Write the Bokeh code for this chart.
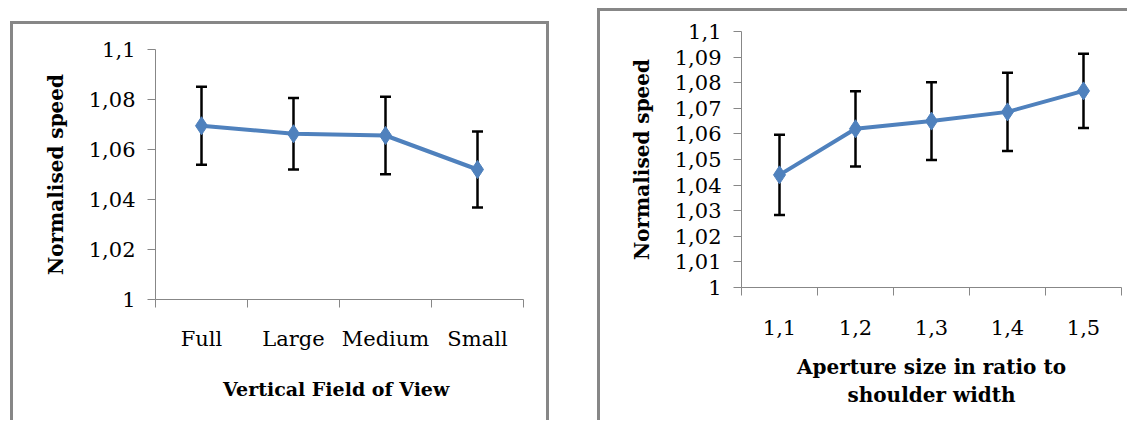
from bokeh.plotting import figure
from bokeh.layouts import row, column
from bokeh.models import ColumnDataSource, Whisker, FixedTicker, TeeHead, Range1d, Spacer
from bokeh.embed import file_html
from bokeh.resources import INLINE

# ---- data: left chart (vertical field of view) ----
fov_labels = ["Full", "Large", "Medium", "Small"]
fov_speed = [1.0695, 1.0663, 1.0656, 1.0520]
fov_err = [0.0156, 0.0143, 0.0155, 0.0152]
fov_yticks = [1.0, 1.02, 1.04, 1.06, 1.08, 1.1]
fov_ytick_labels = ["1", "1,02", "1,04", "1,06", "1,08", "1,1"]

# ---- data: right chart (aperture ratio) ----
ap_labels = ["1,1", "1,2", "1,3", "1,4", "1,5"]
ap_speed = [1.0440, 1.0620, 1.0650, 1.0686, 1.0768]
ap_err = [0.0157, 0.0147, 0.0152, 0.0153, 0.0145]
ap_yticks = [1.0, 1.01, 1.02, 1.03, 1.04, 1.05, 1.06, 1.07, 1.08, 1.09, 1.1]
ap_ytick_labels = ["1", "1,01", "1,02", "1,03", "1,04", "1,05", "1,06", "1,07", "1,08", "1,09", "1,1"]

BLUE = "#4F81BD"
GREY = "#878787"
FONT = "DejaVu Serif"


def make_panel(labels, speed, err, yticks, ylabels, xlabel, width, height, borders, shadow, ymin, ymax):
    n = len(labels)
    xs = [i + 1 for i in range(n)]
    src = ColumnDataSource(dict(
        x=xs, y=speed,
        upper=[s + e for s, e in zip(speed, err)],
        lower=[s - e for s, e in zip(speed, err)],
    ))
    p = figure(width=width, height=height, output_backend="svg", toolbar_location=None,
               x_range=Range1d(0.5, n + 0.5), y_range=Range1d(ymin, ymax))
    p.min_border_left, p.min_border_right, p.min_border_top, p.min_border_bottom = borders
    p.outline_line_color = None
    p.xgrid.visible = False
    p.ygrid.visible = False
    p.background_fill_color = None
    p.border_fill_color = None
    p.styles = {"box-shadow": shadow}

    wh = Whisker(source=src, base="x", upper="upper", lower="lower",
                 line_color="black", line_width=2.5,
                 upper_head=TeeHead(size=11, line_color="black", line_width=2.5),
                 lower_head=TeeHead(size=11, line_color="black", line_width=2.5))
    p.add_layout(wh)
    p.line("x", "y", source=src, line_color=BLUE, line_width=4)
    p.scatter("x", "y", source=src, marker="diamond", size=18, fill_color=BLUE, line_color=BLUE)

    # x axis: labels at category centres, ticks at category boundaries
    xa = p.xaxis[0]
    xa.ticker = FixedTicker(ticks=xs, minor_ticks=[i + 0.5 for i in range(n + 1)])
    xa.major_label_overrides = {x: l for x, l in zip(xs, labels)}
    xa.major_tick_line_color = None
    xa.major_tick_out = 0
    xa.major_tick_in = 0
    xa.minor_tick_line_color = GREY
    xa.minor_tick_out = 8
    xa.minor_tick_in = 0
    xa.axis_line_color = GREY
    xa.major_label_text_font = FONT
    xa.major_label_text_font_size = "21px"
    xa.major_label_text_color = "black"
    xa.major_label_standoff = 19
    xa.axis_label = xlabel
    xa.axis_label_text_font = FONT
    xa.axis_label_text_font_style = "bold"
    xa.axis_label_text_font_size = "20px"
    xa.axis_label_text_color = "black"
    xa.axis_label_standoff = 24

    ya = p.yaxis[0]
    ya.ticker = FixedTicker(ticks=yticks, minor_ticks=[])
    ya.major_label_overrides = {t: l for t, l in zip(yticks, ylabels)}
    ya.major_tick_line_color = GREY
    ya.major_tick_out = 8
    ya.major_tick_in = 0
    ya.minor_tick_line_color = None
    ya.axis_line_color = GREY
    ya.major_label_text_font = FONT
    ya.major_label_text_font_size = "21px"
    ya.major_label_text_color = "black"
    ya.major_label_standoff = 12
    ya.axis_label = "Normalised speed"
    ya.axis_label_text_font = FONT
    ya.axis_label_text_font_style = "bold"
    ya.axis_label_text_font_size = "20px"
    ya.axis_label_text_color = "black"
    ya.axis_label_standoff = 18
    return p


left = make_panel(fov_labels, fov_speed, fov_err, fov_yticks, fov_ytick_labels,
                  "Vertical  Field of View", 539, 399, (145, 26, 28, 121),
                  f"inset 3px 0 0 0 {GREY}, inset 0 3px 0 0 {GREY}, inset -3px 0 0 0 {GREY}",
                  1.0, 1.1)
left.xaxis[0].axis_label_text_font_size = "19px"

right = make_panel(ap_labels, ap_speed, ap_err, ap_yticks, ap_ytick_labels,
                   "Aperture size in ratio to\nshoulder width", 530, 412, (144, 6, 23, 133),
                   f"inset 3px 0 0 0 {GREY}, inset 0 3px 0 0 {GREY}",
                   1.0, 1.1)
right.xaxis[0].major_label_standoff = 24
right.xaxis[0].axis_label_standoff = 17

layout = row(Spacer(width=10),
             column(Spacer(height=21), left),
             Spacer(width=48),
             column(Spacer(height=8), right))
open("out.html", "w").write(file_html(layout, INLINE))
